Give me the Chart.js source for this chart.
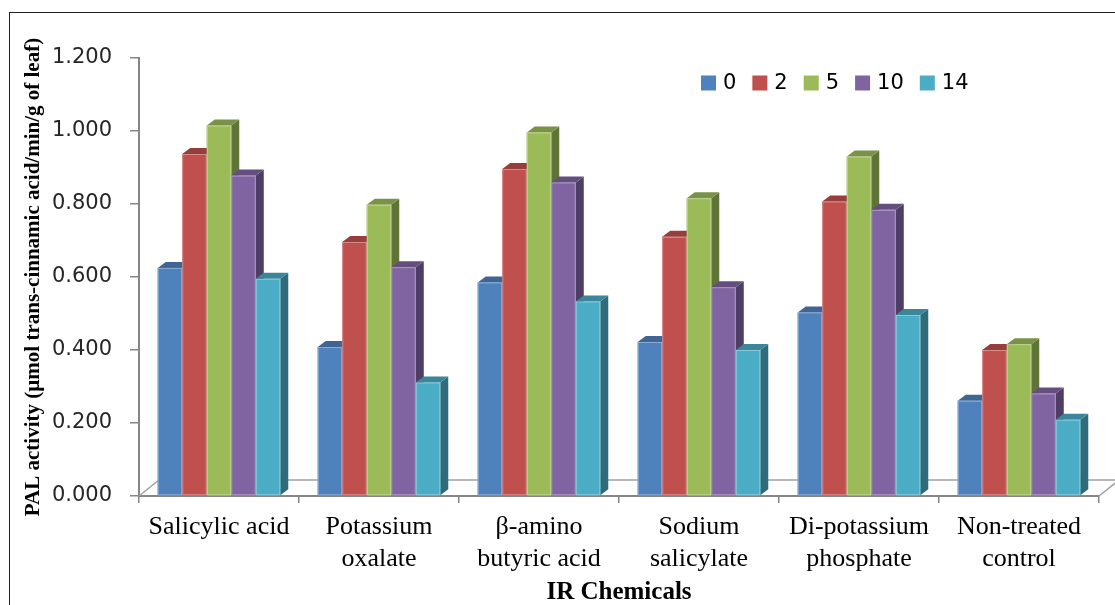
<!DOCTYPE html>
<html>
<head>
<meta charset="utf-8">
<title>PAL activity</title>
<script src="https://cdn.jsdelivr.net/npm/chart.js@4.4.1/dist/chart.umd.min.js"></script>
<style>
  html, body { margin: 0; padding: 0; background: #fff; }
  #chart { display: block; }
</style>
</head>
<body>
<canvas id="chart" width="1115" height="605"></canvas>
<script>
// categories (IR chemicals) and series (days)
var chemicals = [
  ['Salicylic acid'],
  ['Potassium', 'oxalate'],
  ['β-amino', 'butyric acid'],
  ['Sodium', 'salicylate'],
  ['Di-potassium', 'phosphate'],
  ['Non-treated', 'control']
];
var days = ['0', '2', '5', '10', '14'];

var day0  = [0.625, 0.408, 0.585, 0.422, 0.503, 0.261];
var day2  = [0.937, 0.696, 0.896, 0.710, 0.807, 0.400];
var day5  = [1.015, 0.798, 0.996, 0.816, 0.930, 0.416];
var day10 = [0.878, 0.627, 0.859, 0.572, 0.784, 0.281];
var day14 = [0.595, 0.311, 0.533, 0.400, 0.496, 0.209];

var yTicks = [0, 0.2, 0.4, 0.6, 0.8, 1.0, 1.2];

var colors = ['#4F81BD', '#C0504D', '#9BBB59', '#8064A2', '#4BACC6'];

function shade(hex, k) {
  var r = parseInt(hex.substr(1, 2), 16), g = parseInt(hex.substr(3, 2), 16), b = parseInt(hex.substr(5, 2), 16);
  return 'rgb(' + Math.round(r * k) + ',' + Math.round(g * k) + ',' + Math.round(b * k) + ')';
}

var axisGray = '#868686';
var DEPTH_X = 8, DEPTH_Y = 6;      // bar extrusion
var FLOOR_X = 20, FLOOR_Y = 16;    // floor depth

// white page + frame, floor under the bars
var backdrop = {
  id: 'backdrop',
  beforeDraw: function (chart) {
    var ctx = chart.ctx;
    ctx.save();
    ctx.fillStyle = '#fff';
    ctx.fillRect(0, 0, chart.width, chart.height);
    ctx.strokeStyle = '#222';
    ctx.lineWidth = 1;
    ctx.strokeRect(9.5, 12.5, chart.width + 20, chart.height + 20);
    ctx.restore();
  },
  beforeDatasetsDraw: function (chart) {
    var ctx = chart.ctx, a = chart.chartArea;
    ctx.save();
    ctx.strokeStyle = '#a0a0a0';
    ctx.lineWidth = 1.5;
    ctx.beginPath();
    ctx.moveTo(a.left, a.bottom);
    ctx.lineTo(a.left + FLOOR_X, a.bottom - FLOOR_Y);
    ctx.lineTo(a.right + FLOOR_X, a.bottom - FLOOR_Y);
    ctx.lineTo(a.right, a.bottom);
    ctx.stroke();
    ctx.restore();
  }
};

// 3d look: redraw each bar with its top and side faces, left to right
var bars3d = {
  id: 'bars3d',
  afterDatasetsDraw: function (chart) {
    var ctx = chart.ctx;
    var n = chart.data.labels.length;
    ctx.save();
    for (var j = 0; j < n; j++) {
      chart.data.datasets.forEach(function (ds, i) {
        var el = chart.getDatasetMeta(i).data[j];
        var l = el.x - el.width / 2, r = el.x + el.width / 2, t = el.y, b = el.base;
        var c = colors[i];
        ctx.fillStyle = shade(c, 0.62);
        ctx.beginPath();
        ctx.moveTo(r, t); ctx.lineTo(r + DEPTH_X, t - DEPTH_Y);
        ctx.lineTo(r + DEPTH_X, b - DEPTH_Y); ctx.lineTo(r, b);
        ctx.closePath(); ctx.fill();
        ctx.fillStyle = shade(c, 0.78);
        ctx.beginPath();
        ctx.moveTo(l, t); ctx.lineTo(l + DEPTH_X, t - DEPTH_Y);
        ctx.lineTo(r + DEPTH_X, t - DEPTH_Y); ctx.lineTo(r, t);
        ctx.closePath(); ctx.fill();
        ctx.fillStyle = c;
        ctx.fillRect(l, t, r - l, b - t);
        ctx.strokeStyle = 'rgba(255,255,255,0.35)';
        ctx.lineWidth = 1;
        ctx.strokeRect(l + 0.5, t + 0.5, r - l - 1, b - t - 1);
      });
    }
    ctx.restore();
  }
};

// legend sitting inside the plot, top right
var legendBox = {
  id: 'legendBox',
  afterDraw: function (chart) {
    var ctx = chart.ctx;
    var x = 701, cy = 83, box = 15;
    ctx.save();
    ctx.font = '21px "DejaVu Sans"';
    ctx.textBaseline = 'middle';
    ctx.textAlign = 'left';
    chart.data.datasets.forEach(function (ds, i) {
      ctx.fillStyle = colors[i];
      ctx.fillRect(x, cy - box / 2, box, box);
      x += box + 7;
      ctx.fillStyle = '#000';
      ctx.fillText(ds.label, x, cy + 1);
      x += ctx.measureText(ds.label).width + 16;
    });
    ctx.restore();
  }
};

var series = [day0, day2, day5, day10, day14];

new Chart(document.getElementById('chart'), {
  type: 'bar',
  data: {
    labels: chemicals,
    datasets: series.map(function (s, i) {
      return {
        label: days[i],
        data: s,
        backgroundColor: colors[i],
        borderWidth: 0,
        categoryPercentage: 0.766,
        barPercentage: 1
      };
    })
  },
  options: {
    responsive: false,
    animation: false,
    layout: { padding: { left: 10, top: 58, right: 16, bottom: 0 } },
    plugins: {
      legend: { display: false },
      tooltip: { enabled: false }
    },
    scales: {
      x: {
        grid: { offset: true, drawOnChartArea: false, drawTicks: true, tickLength: 7, color: axisGray, lineWidth: 1.5 },
        border: { color: axisGray, width: 2 },
        ticks: {
          color: '#000',
          padding: 9,
          maxRotation: 0,
          autoSkip: false,
          font: { family: '"Liberation Serif", "Times New Roman", serif', size: 26, lineHeight: 1.2 }
        },
        title: {
          display: true,
          text: 'IR Chemicals',
          color: '#000',
          padding: { top: 0, bottom: 0 },
          font: { family: '"Liberation Serif", "Times New Roman", serif', size: 25, weight: 'bold', lineHeight: 1 }
        },
        afterFit: function (s) { s.height = 109; }
      },
      y: {
        min: 0,
        max: 1.2,
        afterBuildTicks: function (s) {
          s.ticks = yTicks.map(function (v) { return { value: v }; });
        },
        grid: { drawOnChartArea: false, drawTicks: true, tickLength: 9, color: axisGray, lineWidth: 1.5 },
        border: { color: axisGray, width: 2 },
        ticks: {
          color: '#262626',
          padding: 18,
          font: { family: '"DejaVu Sans", Verdana, sans-serif', size: 21 },
          callback: function (v) { return Number(v).toFixed(3); }
        },
        title: {
          display: true,
          text: 'PAL activity (µmol trans-cinnamic acid/min/g of leaf)',
          color: '#000',
          padding: { top: 11, bottom: 0 },
          font: { family: '"Liberation Serif", "Times New Roman", serif', size: 21, weight: 'bold' }
        },
        afterFit: function (s) { s.width = 129; }
      }
    }
  },
  plugins: [backdrop, bars3d, legendBox]
});
</script>
</body>
</html>
